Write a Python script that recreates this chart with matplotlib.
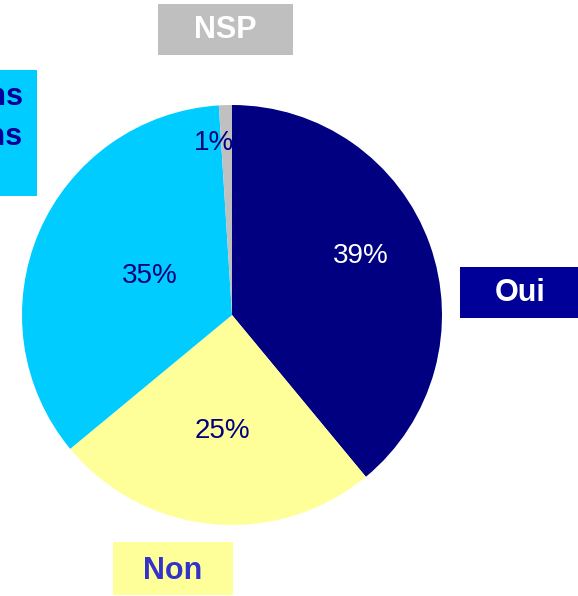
import matplotlib.pyplot as plt
from matplotlib.patches import Rectangle

# Data
labels = ["Oui", "Non", "Sans\nopinions", "NSP"]
values = [39, 25, 35, 1]
pct_labels = ["39%", "25%", "35%", "1%"]
colors = ["#000080", "#FFFF99", "#00CCFF", "#C0C0C0"]

plt.rcParams["font.family"] = ["Liberation Sans", "DejaVu Sans"]

W, H = 578, 596
fig = plt.figure(figsize=(W / 100, H / 100), dpi=100)
ax = fig.add_axes([0, 0, 1, 1])

# pie in pixel coordinates (y measured from the bottom)
cx, cy, r = 232, H - 315, 210
wedges, _ = ax.pie(values, colors=colors, startangle=90, counterclock=False,
                   center=(cx, cy), radius=r, frame=True,
                   wedgeprops=dict(linewidth=0))
ax.set_xlim(0, W)
ax.set_ylim(0, H)
ax.set_aspect("equal")
ax.axis("off")

# percentage labels
pct_pos = [(361, 256), (222, 431), (150, 276), (214, 143)]
pct_col = ["white", "#000080", "#000080", "#000080"]
for t, (x, y), c in zip(pct_labels, pct_pos, pct_col):
    ax.text(x, H - y, t, color=c, fontsize=20, ha="center", va="center")

# category boxes
def box(x0, y0, x1, y1, fc):
    ax.add_patch(Rectangle((x0, H - y1), x1 - x0, y1 - y0, facecolor=fc,
                           edgecolor="none", zorder=3))

box(158, 4, 293, 55, "#BFBFBF")
ax.text(225, H - 30, labels[3], color="white", fontsize=22, fontweight="bold",
        ha="center", va="center", zorder=4)

box(460, 267, 578, 318, "#000099")
ax.text(520, H - 293, labels[0], color="white", fontsize=22, fontweight="bold",
        ha="center", va="center", zorder=4)

box(113, 542, 233, 595, "#FFFF99")
ax.text(173, H - 571, labels[1], color="#3333CC", fontsize=22, fontweight="bold",
        ha="center", va="center", zorder=4)

# left label box is cut by the picture's edge, as in the original
box(0, 70, 37, 196, "#00CCFF")
ax.text(23, H - 117, labels[2], color="#000099", fontsize=22, fontweight="bold",
        ha="right", va="center", linespacing=1.45, zorder=4)

fig.savefig("out.png", dpi=100, facecolor="white")
